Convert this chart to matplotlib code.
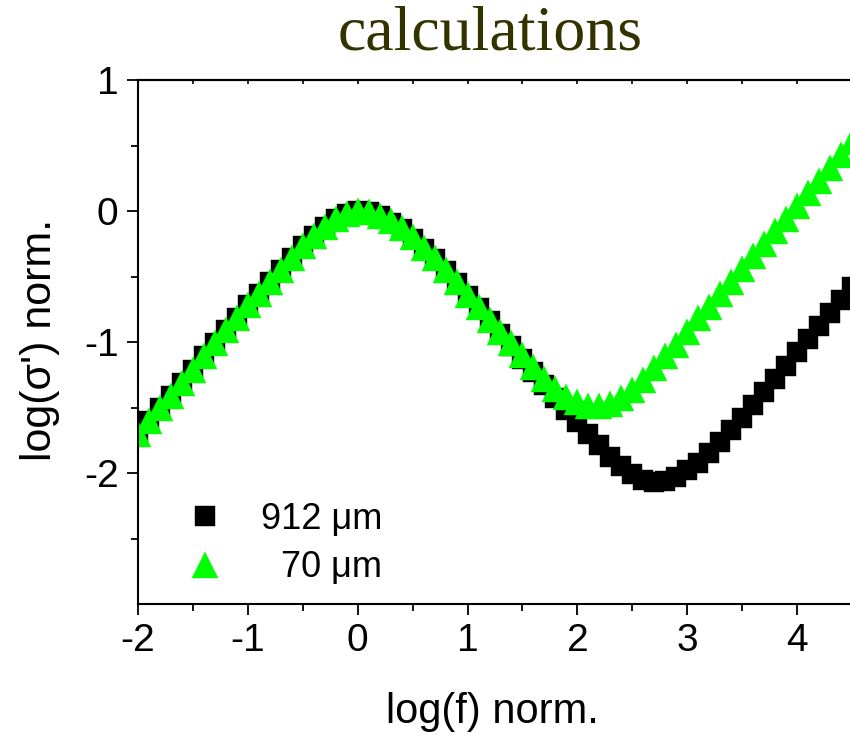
import numpy as np
import matplotlib
matplotlib.use("Agg")
import matplotlib.pyplot as plt
from matplotlib.ticker import MultipleLocator, FixedLocator, NullFormatter

plt.rcParams['font.family'] = ['Liberation Sans', 'DejaVu Sans']
plt.rcParams['axes.unicode_minus'] = False

# ---- data ----
log_f = np.round(np.arange(-20, 46) / 10.0, 1)

y_912um = [-1.70, -1.60, -1.50, -1.41, -1.31, -1.21, -1.11, -1.01, -0.91, -0.82,
           -0.72, -0.63, -0.54, -0.45, -0.36, -0.27, -0.19, -0.12, -0.06, -0.02,
           0.00,
           -0.01, -0.04, -0.09, -0.14, -0.21, -0.29, -0.37, -0.46, -0.55, -0.65,
           -0.74, -0.84, -0.94, -1.03, -1.13, -1.23, -1.33, -1.43, -1.52, -1.61,
           -1.70, -1.79, -1.88, -1.95, -2.01, -2.05, -2.07, -2.06, -2.03, -1.98,
           -1.92, -1.85, -1.76, -1.67, -1.58, -1.48, -1.38, -1.28, -1.18, -1.08,
           -0.98, -0.88, -0.78, -0.68, -0.58]

y_70um = [-1.70, -1.60, -1.50, -1.41, -1.31, -1.21, -1.11, -1.01, -0.91, -0.82,
          -0.72, -0.63, -0.54, -0.45, -0.36, -0.27, -0.19, -0.12, -0.06, -0.02,
          0.00,
          -0.01, -0.04, -0.08, -0.13, -0.20, -0.28, -0.36, -0.45, -0.54, -0.64,
          -0.73, -0.83, -0.92, -1.01, -1.10, -1.19, -1.28, -1.36, -1.42, -1.46,
          -1.49, -1.49, -1.47, -1.43, -1.37, -1.29, -1.20, -1.11, -1.02, -0.92,
          -0.82, -0.73, -0.63, -0.54, -0.44, -0.34, -0.25, -0.15, -0.06, 0.04,
          0.14, 0.23, 0.33, 0.43, 0.53]

labels = ["912 \u03bcm", "  70 \u03bcm"]
x_ticks = [-2, -1, 0, 1, 2, 3, 4]
y_ticks = [-2, -1, 0, 1]

# ---- figure ----
fig = plt.figure(figsize=(8.5, 7.36), dpi=100)
W, H = 850.0, 736.0
ax = fig.add_axes([138 / W, 1 - 604 / H, (852 - 138) / W, (604 - 80) / H])

l1, = ax.plot(log_f, y_912um, linestyle='none', marker='s', markersize=14.5,
              color='black', markeredgecolor='black', markeredgewidth=0.3)
l2, = ax.plot(log_f, y_70um, linestyle='none', marker='^', markersize=18.5,
              color='#00ff00', markeredgecolor='#00ff00', markeredgewidth=0.3)

ax.set_xlim(-2, 4.5)
ax.set_ylim(-3, 1)

for s in ax.spines.values():
    s.set_linewidth(1.5)
ax.spines['right'].set_visible(False)

ax.xaxis.set_major_locator(FixedLocator(x_ticks))
ax.xaxis.set_minor_locator(MultipleLocator(0.5))
ax.yaxis.set_major_locator(FixedLocator(y_ticks))
ax.yaxis.set_minor_locator(FixedLocator([-2.5, -1.5, -0.5, 0.5]))

ax.tick_params(axis='both', which='major', direction='out', length=8, width=1.3,
               labelsize=28, pad=6)
ax.tick_params(axis='both', which='minor', direction='out', length=5, width=1.3)
ax.tick_params(axis='y', which='both', right=False)
ax.tick_params(axis='x', which='both', top=False)

sec = ax.secondary_xaxis('top')
sec.xaxis.set_major_locator(MultipleLocator(0.5))
sec.xaxis.set_major_formatter(NullFormatter())
sec.tick_params(direction='in', length=3, width=1.2)
sec.spines['top'].set_linewidth(1.5)

ax.set_xlabel("log(f) norm.", fontsize=30)
ax.xaxis.label.set_va('center')
ax.xaxis.set_label_coords(0.497, (604 - 712) / 524.0)
ax.set_ylabel("log(\u03c3') norm.", fontsize=31)
ax.yaxis.label.set_va('center')
ax.yaxis.set_label_coords((40 - 138) / 714.0, (604 - 340) / 524.0)

fig.text(490 / W, 1 - 50 / H, "calculations", ha='center', va='baseline',
         family=['Liberation Serif', 'DejaVu Serif'], fontsize=46, color='#333300')

leg = ax.legend([l1, l2], labels, loc='upper left',
                bbox_to_anchor=((187 - 138) / 714.0, (604 - 502) / 524.0),
                frameon=False, fontsize=26, handlelength=1.0, handletextpad=1.05,
                labelspacing=0.37, borderpad=0, borderaxespad=0, numpoints=1)

fig.savefig("out.png", dpi=100)
